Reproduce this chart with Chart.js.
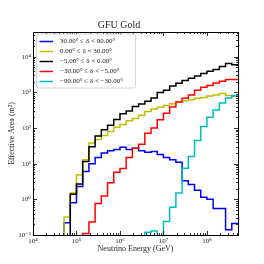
<!DOCTYPE html>
<html>
<head>
<meta charset="utf-8">
<script src="https://cdn.jsdelivr.net/npm/chart.js@4"></script>
<style>
  html, body { margin: 0; padding: 0; background: #fff; }
  #wrap { width: 264px; height: 264px; }
</style>
</head>
<body>
<div id="wrap"><canvas id="effAreaChart" width="264" height="264"></canvas></div>
<script>
// energy bins: 7 per decade starting at 1e4 GeV (33 bins)
const binEdges = Array.from({ length: 34 }, (_, k) => Math.pow(10, 4 + k / 7));

const decLabels = [
    '30.00° ≤ δ < 90.00°',
    '0.00° ≤ δ < 30.00°',
    '−5.00° ≤ δ < 0.00°',
    '−30.00° ≤ δ < −5.00°',
    '−90.00° ≤ δ < −30.00°'
];
const lineColors = ['#0000ff', '#bfbf00', '#000000', '#ff0000', '#00bfbf'];

// effective area per bin (m^2), null = empty bin
const blueArea = [null, null, null, null, null, 0.22, 0.8, 2.3, 6, 10, 15, 20, 23, 25, 29, 25, 27, 23, 21, 22,
    18, 15, 13, 11, 3.3, 2.6, 1.8, 1.15, 1.0, 0.55, 0.55, 0.14, 0.21];
const yellowArea = [null, null, null, null, null, 0.32, 1.5, 4.8, 13, 38, 48, 62, 80, 105, 125, 160, 185, 230, 290, 340,
    380, 430, 480, 540, 580, 620, 680, 720, 790, 850, 930, 820, 780];
const blackArea = [null, null, null, null, null, null, 1.4, 2.7, 11.5, 30, 60, 90, 120, 175, 250, 300, 400, 470, 560, 700,
    1000, 1150, 1500, 1800, 2150, 2500, 2900, 3400, 3900, 4400, 5300, 6500, 6000];
const redArea = [null, null, null, null, null, null, null, null, 0.11, 0.23, 0.76, 1.25, 2.9, 5.8, 7.3, 15, 27, 35, 72, 100,
    170, 260, 390, 540, 680, 850, 1150, 1400, 1550, 1830, 2050, 2300, 2300];
const cyanArea = [null, null, null, null, null, null, null, null, null, null, null, null, null, null, null, null, null, null, 0.12, 0.13,
    0, 0.24, 0.6, 1.5, 7.5, 16, 45, 110, 200, 320, 500, 700, 800];

const xTickExp = [4, 5, 6, 7, 8];
const yTickExp = [-1, 0, 1, 2, 3, 4];

const supMap = { '-': '⁻', '0': '⁰', '1': '¹', '2': '²', '3': '³', '4': '⁴', '5': '⁵', '6': '⁶', '7': '⁷', '8': '⁸', '9': '⁹' };
function powLabel(e) {
    return '10' + String(e).split('').map(c => supMap[c]).join('');
}

// turn bin values into step-histogram points (vertical rise from the bottom at the first bin)
function stepPoints(vals) {
    const pts = [];
    let first = vals.findIndex(v => v !== null);
    pts.push({ x: binEdges[first], y: 1e-3 });
    for (let i = first; i < vals.length; i++) {
        const v = vals[i] === null || vals[i] === 0 ? 1e-3 : vals[i];
        pts.push({ x: binEdges[i], y: v });
    }
    pts.push({ x: binEdges[vals.length], y: pts[pts.length - 1].y });
    return pts;
}

const seriesList = [blueArea, yellowArea, blackArea, redArea, cyanArea];
const serif = "'Liberation Serif', 'DejaVu Serif', serif";

// inward ticks on all four sides plus the frame
const frameTicks = {
    id: 'frameTicks',
    afterDraw(chart) {
        const ctx = chart.ctx;
        const a = chart.chartArea;
        const xs = chart.scales.x, ys = chart.scales.y;
        ctx.save();
        ctx.strokeStyle = '#000';
        ctx.lineWidth = 0.8;
        ctx.beginPath();
        for (let e = 3; e <= 9; e++) {
            for (let m = 1; m <= 9; m++) {
                const v = m * Math.pow(10, e);
                const len = m === 1 ? 4 : 2;
                if (v >= xs.min && v <= xs.max) {
                    const px = Math.round(xs.getPixelForValue(v)) + 0.5;
                    ctx.moveTo(px, a.bottom); ctx.lineTo(px, a.bottom - len);
                    ctx.moveTo(px, a.top); ctx.lineTo(px, a.top + len);
                }
            }
        }
        for (let e = -2; e <= 5; e++) {
            for (let m = 1; m <= 9; m++) {
                const v = m * Math.pow(10, e);
                const len = m === 1 ? 4 : 2;
                if (v >= ys.min && v <= ys.max) {
                    const py = Math.round(ys.getPixelForValue(v)) + 0.5;
                    ctx.moveTo(a.left, py); ctx.lineTo(a.left + len, py);
                    ctx.moveTo(a.right, py); ctx.lineTo(a.right - len, py);
                }
            }
        }
        ctx.stroke();
        ctx.lineWidth = 1;
        ctx.strokeRect(Math.round(a.left) + 0.5, Math.round(a.top) + 0.5,
            Math.round(a.right - a.left), Math.round(a.bottom - a.top));
        ctx.restore();
    }
};

// matplotlib-style framed legend in the upper-left corner
const boxLegend = {
    id: 'boxLegend',
    afterDraw(chart) {
        const ctx = chart.ctx;
        const a = chart.chartArea;
        const x0 = a.left + 3, y0 = a.top + 1.5, w = 99, h = 54, r = 2;
        ctx.save();
        ctx.fillStyle = 'rgba(255,255,255,0.85)';
        ctx.strokeStyle = '#cccccc';
        ctx.lineWidth = 0.8;
        ctx.beginPath();
        ctx.roundRect(x0 + 0.5, y0 + 0.5, w, h, r);
        ctx.fill();
        ctx.stroke();
        ctx.font = '7px ' + serif;
        ctx.textBaseline = 'middle';
        chart.data.datasets.forEach((ds, i) => {
            const y = y0 + 8 + i * 10;
            ctx.strokeStyle = ds.borderColor;
            ctx.lineWidth = 1.5;
            ctx.beginPath();
            ctx.moveTo(x0 + 3.5, y);
            ctx.lineTo(x0 + 17, y);
            ctx.stroke();
            ctx.fillStyle = '#222';
            ctx.fillText(ds.label, x0 + 24, y);
        });
        ctx.restore();
    }
};

const ctx = document.getElementById('effAreaChart').getContext('2d');

new Chart(ctx, {
    type: 'line',
    data: {
        datasets: seriesList.map((vals, i) => ({
            label: decLabels[i],
            data: stepPoints(vals),
            borderColor: lineColors[i],
            borderWidth: 1.5,
            pointRadius: 0,
            fill: false,
            stepped: 'before',
            clip: 0,
            order: 5 - i
        }))
    },
    options: {
        responsive: false,
        animation: false,
        devicePixelRatio: 1,
        layout: { padding: { left: 0, right: 26, top: 0, bottom: 0 } },
        plugins: {
            legend: { display: false },
            tooltip: { enabled: false },
            title: {
                display: true,
                text: 'GFU Gold',
                color: '#222',
                font: { family: serif, size: 10, weight: 'normal', lineHeight: 1.2 },
                padding: { top: 19, bottom: 1 }
            }
        },
        scales: {
            x: {
                type: 'logarithmic',
                min: binEdges[0],
                max: binEdges[33],
                afterBuildTicks: s => { s.ticks = xTickExp.map(e => ({ value: Math.pow(10, e) })); },
                afterFit: s => { s.height = 29; },
                ticks: {
                    autoSkip: false,
                    maxRotation: 0,
                    padding: 1.5,
                    color: '#222',
                    font: { family: serif, size: 7 },
                    callback: v => powLabel(Math.round(Math.log10(v)))
                },
                grid: { display: false, drawTicks: false },
                border: { display: false },
                title: {
                    display: true,
                    text: 'Neutrino Energy (GeV)',
                    color: '#222',
                    font: { family: serif, size: 8 },
                    padding: { top: 0, bottom: 10 }
                }
            },
            y: {
                type: 'logarithmic',
                min: 0.1,
                max: 4.94e4,
                afterBuildTicks: s => { s.ticks = yTickExp.map(e => ({ value: Math.pow(10, e) })); },
                afterFit: s => { s.width = 33; },
                ticks: {
                    autoSkip: false,
                    padding: 2,
                    color: '#222',
                    font: { family: serif, size: 7 },
                    callback: v => powLabel(Math.round(Math.log10(v)))
                },
                grid: { display: false, drawTicks: false },
                border: { display: false },
                title: {
                    display: true,
                    text: 'Effective Area (m²)',
                    color: '#222',
                    font: { family: serif, size: 8 },
                    padding: { top: 7, bottom: 0 }
                }
            }
        }
    },
    plugins: [frameTicks, boxLegend]
});
</script>
</body>
</html>
